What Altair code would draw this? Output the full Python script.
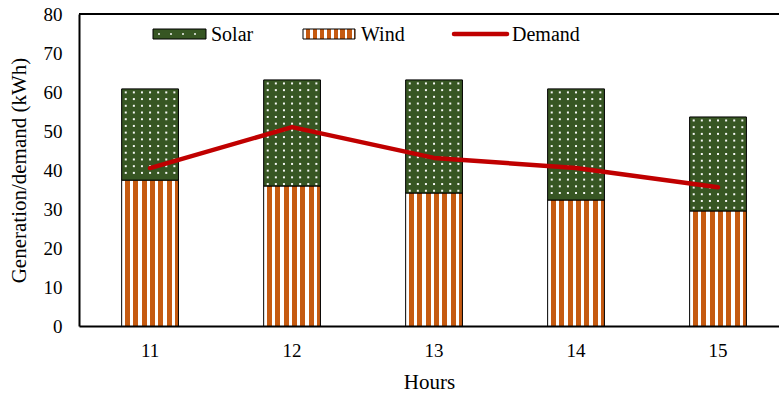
import altair as alt
import pandas as pd

# Hourly generation and demand (kWh)
hours = ["11", "12", "13", "14", "15"]
wind = [37.4, 35.9, 34.1, 32.3, 29.5]
solar = [23.4, 27.2, 29.0, 28.5, 24.1]
demand = [40.5, 51.0, 43.1, 40.5, 35.6]
y_ticks = [0, 10, 20, 30, 40, 50, 60, 70, 80]
series = ["Solar", "Wind", "Demand"]

FONT = "Liberation Serif"
GREEN = "#375623"
ORANGE = "#C55A11"
RED = "#C00000"
Y_TITLE = "Generation/demand (kWh)"

df = pd.DataFrame({"hour": hours, "wind": wind, "solar": solar, "demand": demand})


def stripes(periods=6.8, gap=0.4):
    """Vertical orange/white stripes as a hard-stop linear gradient."""
    stops = []
    step = 1.0 / periods
    p = 0.0
    while p < 1.0:
        a = min(p, 1.0)
        b = min(p + gap * step, 1.0)
        c = min(p + step, 1.0)
        stops += [
            alt.GradientStop(offset=a, color="white"),
            alt.GradientStop(offset=b, color="white"),
            alt.GradientStop(offset=b, color=ORANGE),
            alt.GradientStop(offset=c, color=ORANGE),
        ]
        p += step
    return alt.Gradient(gradient="linear", stops=stops, x1=0, x2=1, y1=0, y2=0)


axis_text = dict(
    labelFont=FONT,
    labelFontSize=19,
    labelColor="black",
    labelOverlap=False,
    titleFont=FONT,
    titleFontSize=21,
    titleFontWeight="normal",
    titleColor="black",
    domainColor="black",
    domainWidth=2,
    ticks=False,
    grid=False,
)

x_enc = alt.X(
    "hour:N",
    title="Hours",
    sort=hours,
    scale=alt.Scale(paddingInner=0.6, paddingOuter=0.265, align=0.567),
    axis=alt.Axis(labelAngle=0, labelPadding=15, titlePadding=11, **axis_text),
)
y_scale = alt.Scale(domain=[0, 80], nice=False)
y_axis = alt.Axis(values=y_ticks, labelPadding=17, titlePadding=14, **axis_text)

base = alt.Chart(df).transform_calculate(total="datum.wind + datum.solar")

wind_bars = base.mark_bar(fill=stripes(), stroke="black", strokeWidth=1).encode(
    x=x_enc,
    y=alt.Y("wind:Q", title=Y_TITLE, scale=y_scale, axis=y_axis),
)

solar_bars = base.mark_bar(fill=GREEN, stroke="black", strokeWidth=1).encode(
    x=x_enc,
    y=alt.Y("wind:Q", title=Y_TITLE, scale=y_scale, axis=y_axis),
    y2="total:Q",
)

# white dot texture on the solar segments
dot_rows = base.transform_calculate(
    row="sequence(datum.wind + datum.solar - 0.9, datum.wind + 0.4, -1.72)"
).transform_flatten(["row"])
dot_layers = [
    dot_rows.mark_square(size=4, color="white", opacity=0.95, strokeWidth=0, xOffset=(k - 3) * 8.1).encode(
        x=x_enc,
        y=alt.Y("row:Q", title=Y_TITLE, scale=y_scale, axis=y_axis),
    )
    for k in range(7)
]

demand_line = base.mark_line(color=RED, strokeWidth=4.5, strokeCap="round", strokeJoin="round").encode(
    x=x_enc,
    y=alt.Y("demand:Q", title=Y_TITLE, scale=y_scale, axis=y_axis),
)

one = alt.Chart(pd.DataFrame({"k": [0]}))

# top edge of the plot frame
top_rule = one.mark_rule(color="black", strokeWidth=2).encode(
    x=alt.value(0), x2=alt.value(700), y=alt.value(0)
)

# legend drawn inside the plot
leg_solar = one.mark_rect(fill=GREEN, stroke="black", strokeWidth=1).encode(
    x=alt.value(74), x2=alt.value(127), y=alt.value(15), y2=alt.value(25)
)
leg_solar_dots = [
    one.mark_square(size=4, color="white", strokeWidth=0).encode(x=alt.value(px), y=alt.value(20))
    for px in [80, 92, 104, 116]
]
leg_wind = one.mark_rect(fill=stripes(periods=7.5), stroke="black", strokeWidth=1).encode(
    x=alt.value(224), x2=alt.value(276), y=alt.value(15), y2=alt.value(25)
)
leg_demand = one.mark_rule(color=RED, strokeWidth=4.5, strokeCap="round").encode(
    x=alt.value(375), x2=alt.value(428), y=alt.value(20)
)
text_kw = dict(align="left", baseline="middle", font=FONT, fontSize=20, color="black")
leg_texts = [
    one.mark_text(text=name, **text_kw).encode(x=alt.value(px), y=alt.value(21))
    for name, px in zip(series, [132, 282, 433])
]

chart = alt.layer(
    wind_bars,
    solar_bars,
    *dot_layers,
    demand_line,
    top_rule,
    leg_solar,
    *leg_solar_dots,
    leg_wind,
    leg_demand,
    *leg_texts,
).properties(
    width=700,
    height=312,
    autosize=alt.AutoSizeParams(type="none"),
    padding={"left": 79, "top": 14, "right": 0, "bottom": 70},
    background="white",
).configure_view(
    stroke=None
).configure_axis(**axis_text)

chart.save("out.html", embed_options={"renderer": "svg", "actions": False})
